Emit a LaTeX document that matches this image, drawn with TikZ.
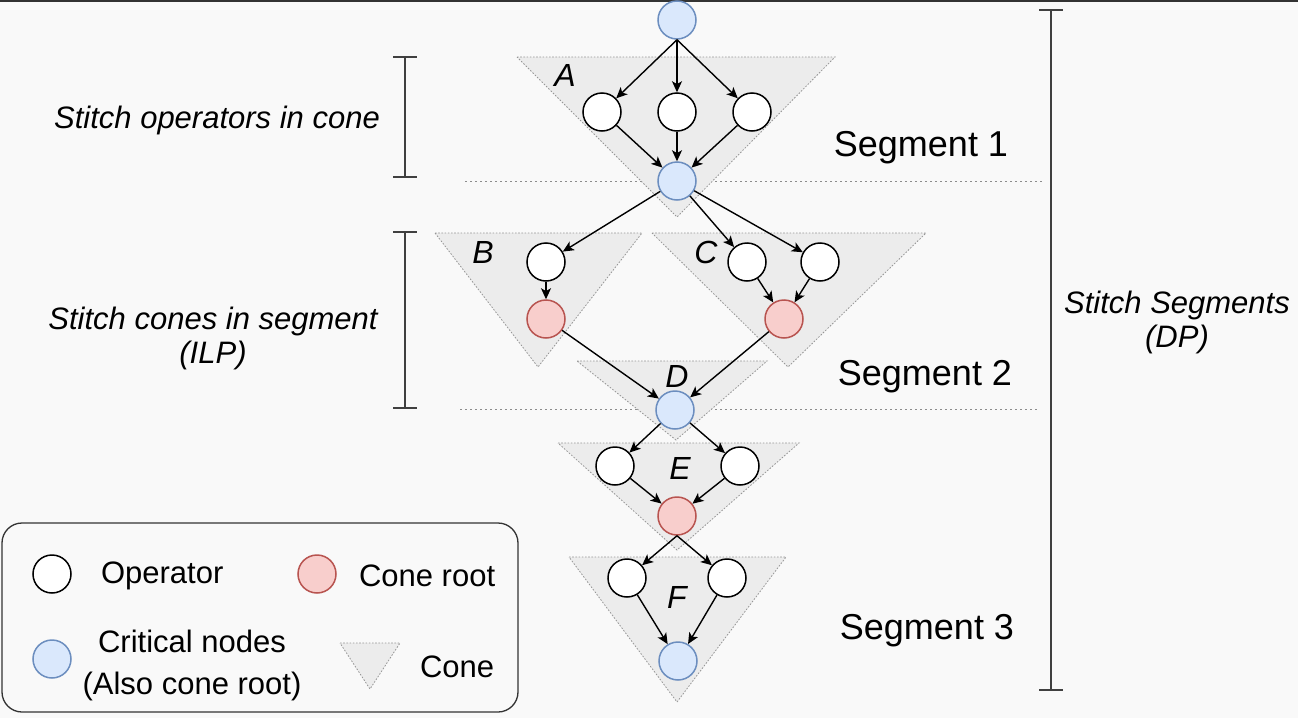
\documentclass[tikz,border=0pt]{standalone}
\usepackage{fontspec}
\setmainfont{Liberation Sans}
\usetikzlibrary{arrows.meta}
\definecolor{bg}{RGB}{249,249,249}
\definecolor{bluefill}{HTML}{DAE8FC}
\definecolor{bluedraw}{HTML}{6C8EBF}
\definecolor{redfill}{HTML}{F8CECC}
\definecolor{reddraw}{HTML}{B85450}
\definecolor{conefill}{RGB}{236,236,236}
\definecolor{conedraw}{RGB}{150,150,150}
\begin{document}
\begin{tikzpicture}[x=0.5pt,y=-0.5pt,
 op/.style={circle,draw=black,fill=white,line width=0.75pt,minimum size=19pt,inner sep=0pt},
 crit/.style={op,draw=bluedraw,fill=bluefill},
 root/.style={op,draw=reddraw,fill=redfill},
 cone/.style={fill=conefill,draw=conedraw,line width=0.4pt,dash pattern=on 0.8pt off 0.8pt},
 edge/.style={line width=0.7pt,-{Stealth[length=5.5pt,width=5pt,inset=1.4pt]}},
 lbl/.style={font=\fontsize{15.5}{17}\selectfont\itshape,align=center},
 conelbl/.style={font=\fontsize{16}{18}\selectfont\itshape},
 seg/.style={font=\fontsize{18}{20}\selectfont},
 txt/.style={font=\fontsize{15.5}{21}\selectfont,align=center},
 brk/.style={line width=0.6pt,draw=black!75},
 sepline/.style={draw=black!45,line width=0.4pt,dash pattern=on 1pt off 1.5pt}]
% background
\fill[bg] (0,0) rectangle (1298,718);
\useasboundingbox (0,0) rectangle (1298,718);
\draw[black!80,line width=1pt] (0,0.8) -- (1298,0.8);

% separator lines
\draw[sepline] (465,181) -- (1043,181);
\draw[sepline] (460,409) -- (1037,409);

% cones
\draw[cone] (517,57) -- (835,57) -- (677,217) -- cycle;
\draw[cone] (577,361) -- (767,361) -- (676,440) -- cycle;
\draw[cone] (435,233) -- (642,233) -- (538,367) -- cycle;
\draw[cone] (652,233) -- (926,233) -- (788,367) -- cycle;
\draw[cone] (558,443) -- (799,443) -- (677,550) -- cycle;
\draw[cone] (569,557) -- (786,557) -- (677,702) -- cycle;

% cone labels
\node[conelbl] (lA) at (565,75) {A};
\node[conelbl] (lB) at (483,252) {B};
\node[conelbl] (lC) at (706,252) {C};
\node[conelbl] (lD) at (677,376) {D};
\node[conelbl] (lE) at (680,468) {E};
\node[conelbl] (lF) at (677,597) {F};

% nodes
\node[crit] (top) at (677,20) {};
\node[op] (a1) at (602,112) {};
\node[op] (a2) at (677,112) {};
\node[op] (a3) at (752,112) {};
\node[crit] (ca) at (677,181) {};
\node[op] (b1) at (546,262) {};
\node[root] (rb) at (546,319) {};
\node[op] (c1) at (747,262) {};
\node[op] (c2) at (820,262) {};
\node[root] (rc) at (784,319) {};
\node[crit] (cd) at (675,410) {};
\node[op] (e1) at (615,466) {};
\node[op] (e2) at (740,466) {};
\node[root] (re) at (677,516) {};
\node[op] (f1) at (627,578) {};
\node[op] (f2) at (727,578) {};
\node[crit] (cf) at (678,661) {};

% edges
\draw[edge] (top.south) -- (a1);
\draw[edge] (top) -- (a2);
\draw[edge] (top.south) -- (a3);
\draw[edge] (a1) -- (ca);
\draw[edge] (a2) -- (ca);
\draw[edge] (a3) -- (ca);
\draw[edge] (ca) -- (b1);
\draw[edge] (ca) -- (c1);
\draw[edge] (ca) -- (c2);
\draw[edge] (b1) -- (rb);
\draw[edge] (c1) -- (rc);
\draw[edge] (c2) -- (rc);
\draw[edge] (rb) -- (cd);
\draw[edge] (rc) -- (cd);
\draw[edge] (cd) -- (e1);
\draw[edge] (cd) -- (e2);
\draw[edge] (e1) -- (re);
\draw[edge] (e2) -- (re);
\draw[edge] (re.south) -- (f1);
\draw[edge] (re.south) -- (f2);
\draw[edge] (f1) -- (cf);
\draw[edge] (f2) -- (cf);

% segment labels
\node[seg] (s1) at (921,148) {Segment 1};
\node[seg] (s2) at (925,377) {Segment 2};
\node[seg] (s3) at (927,631) {Segment 3};

% left brackets
\draw[brk] (405,57) -- (405,177);
\draw[brk] (393,57) -- (417,57);
\draw[brk] (393,177) -- (417,177);
\draw[brk] (405,232) -- (405,408);
\draw[brk] (393,232) -- (417,232);
\draw[brk] (393,408) -- (417,408);
% right bracket
\draw[brk] (1051,10) -- (1051,690);
\draw[brk] (1039,10) -- (1063,10);
\draw[brk] (1039,690) -- (1063,690);

\node[lbl] (t1) at (217,120) {Stitch operators in cone};
\node[lbl] (t2) at (213,338) {Stitch cones in segment\\(ILP)};
\node[lbl] (t3) at (1177,322) {Stitch Segments\\(DP)};

% legend
\draw[draw=black!80,line width=0.65pt,rounded corners=10pt,fill=bg] (2,523) rectangle (518,712);
\node[op] (lgop) at (52,574) {};
\node[txt,anchor=west] (lgopt) at (94,576) {Operator};
\node[root] (lgroot) at (317,574) {};
\node[txt,anchor=west] (lgroott) at (352,576) {Cone root};
\node[crit] (lgcrit) at (52,659) {};
\node[txt] (lgcritt) at (192,665) {Critical nodes\\(Also cone root)};
\draw[cone] (340,643) -- (400,643) -- (370,689) -- cycle;
\node[txt,anchor=west] (lgconet) at (413,667) {Cone};
\end{tikzpicture}
\end{document}
